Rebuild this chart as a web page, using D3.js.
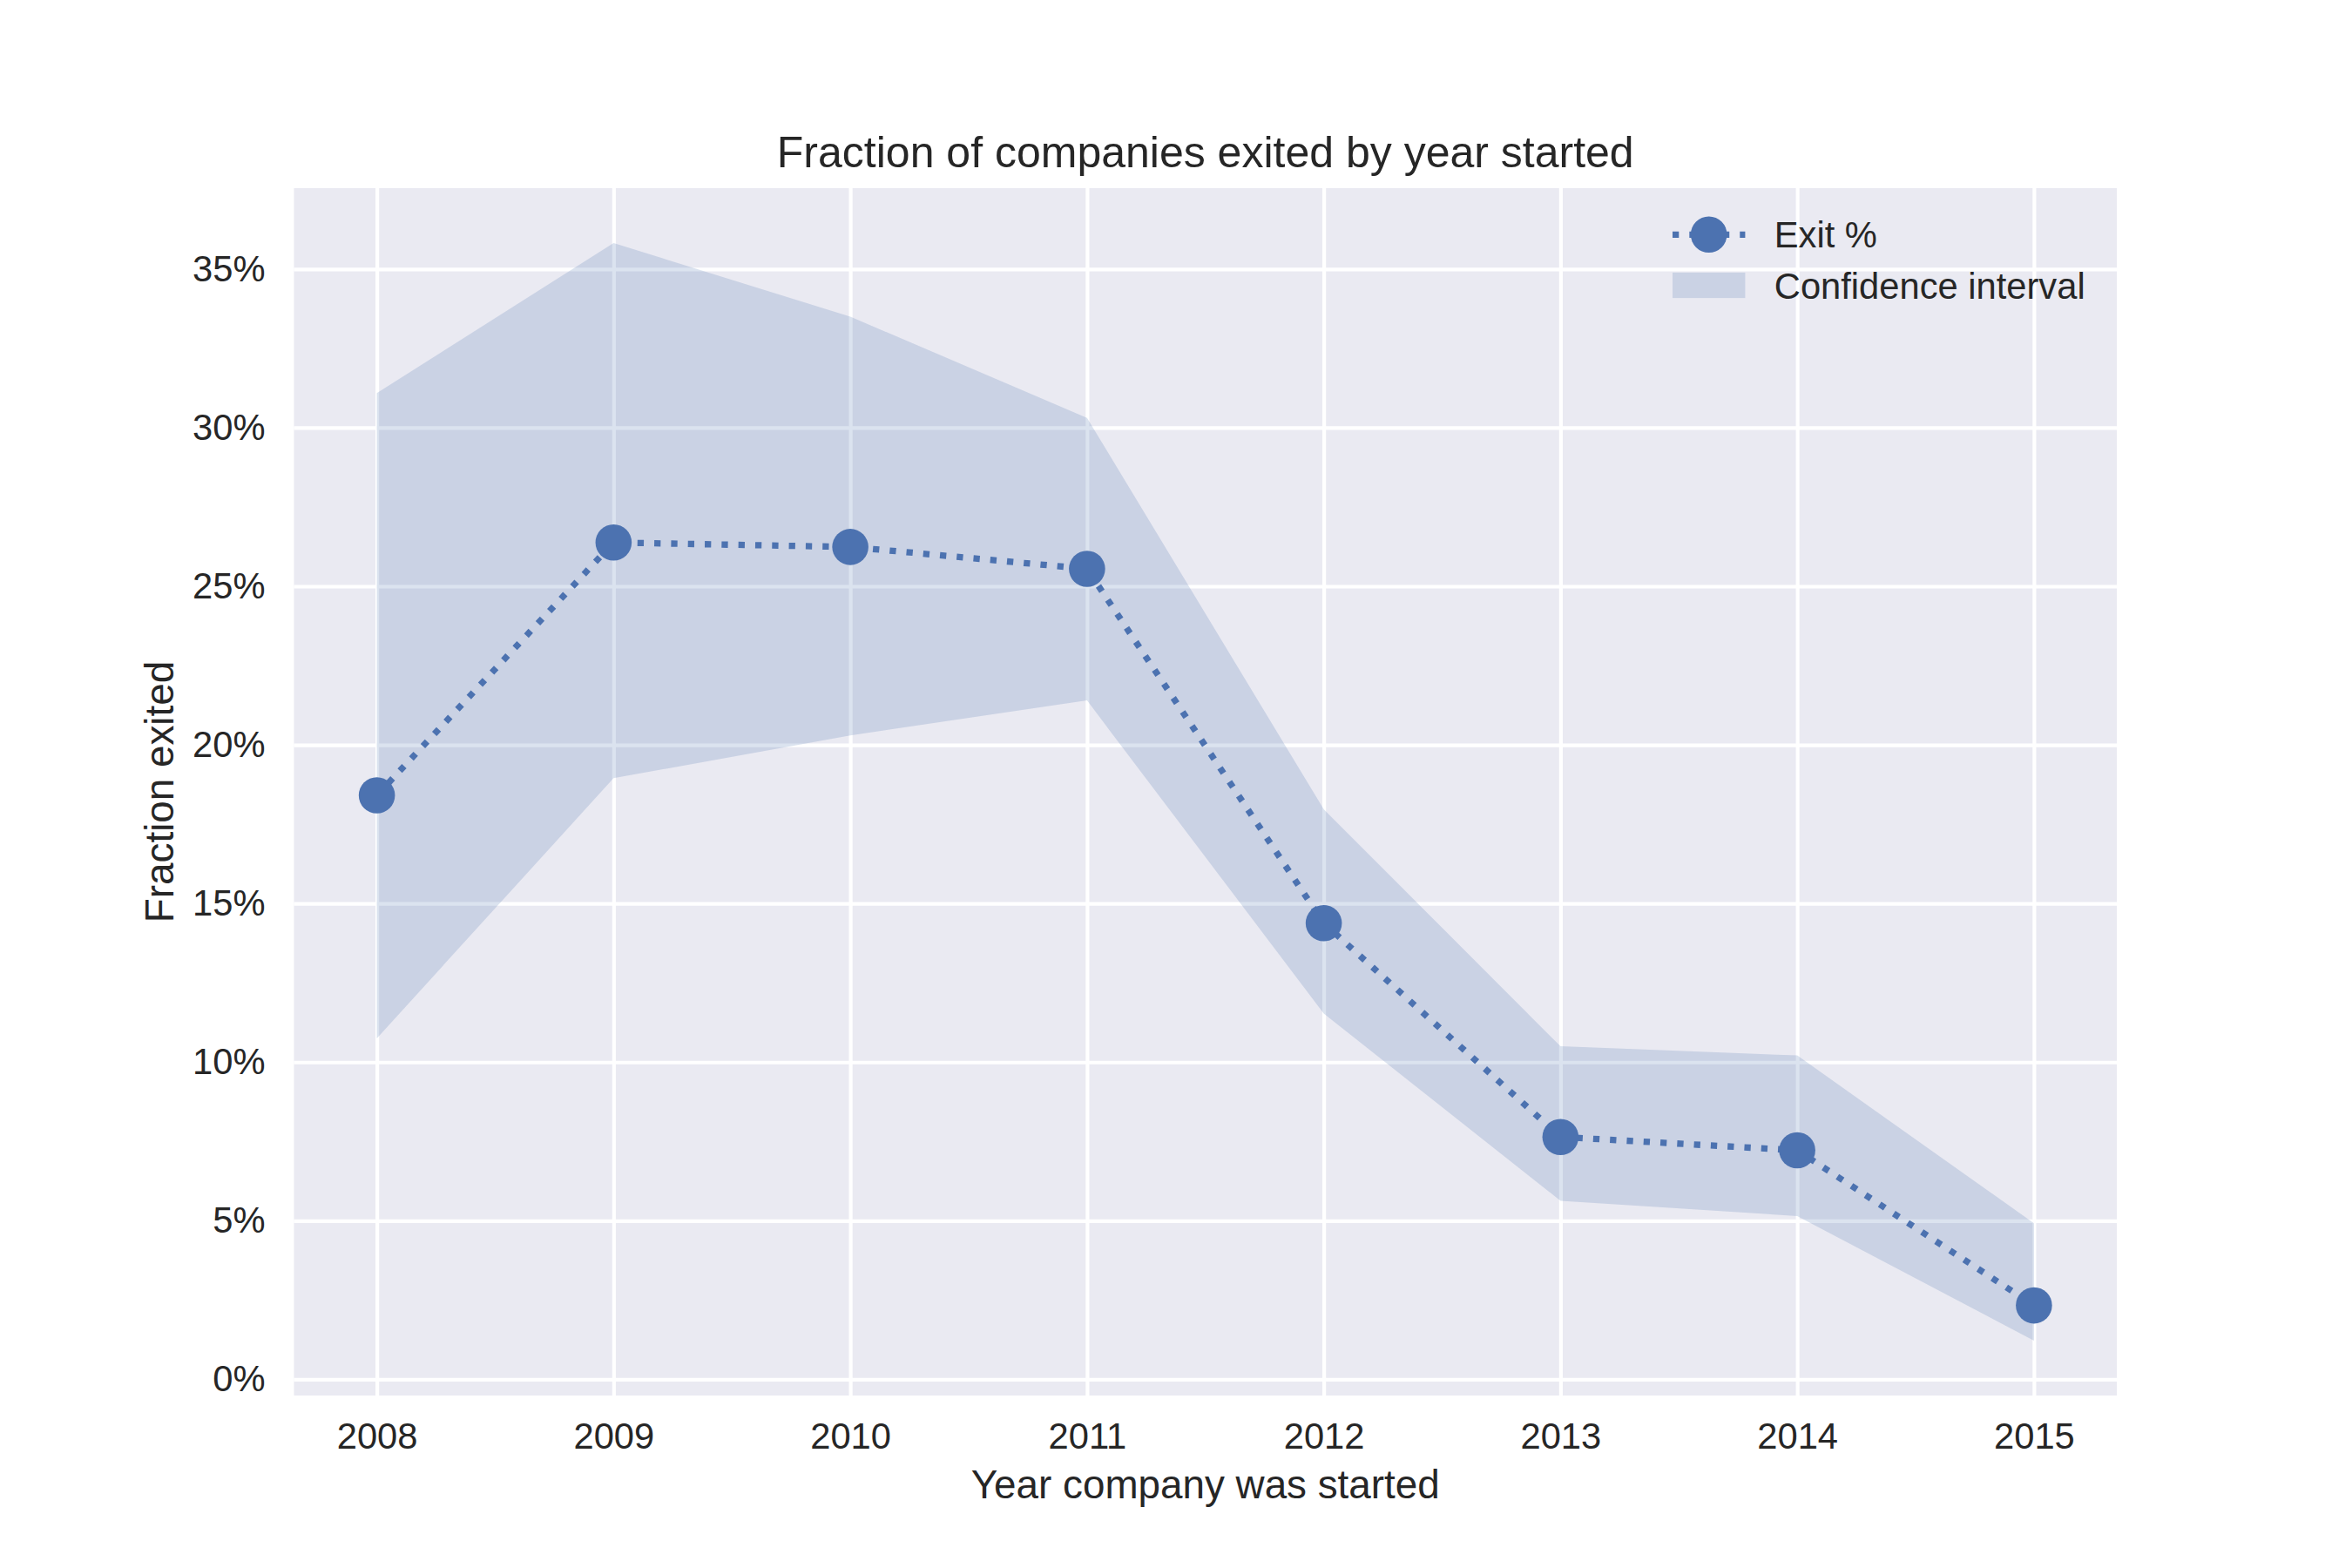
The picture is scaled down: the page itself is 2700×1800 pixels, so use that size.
<!DOCTYPE html>
<html>
<head>
<meta charset="utf-8">
<script src="https://cdn.jsdelivr.net/npm/d3@7"></script>
<style>
  html, body { margin: 0; padding: 0; background: #ffffff; }
  svg { display: block; }
  text { font-family: "Liberation Sans", Arial, "DejaVu Sans", sans-serif; fill: #262626; }
</style>
</head>
<body>
<svg id="chart" width="2700" height="1800"></svg>
<script>
// ---- data ----
const years = [2008, 2009, 2010, 2011, 2012, 2013, 2014, 2015];
const exitPct = [0.1841, 0.2638, 0.2624, 0.2555, 0.1438, 0.0764, 0.0722, 0.0233];
const ciUpper = [0.3109, 0.3582, 0.3350, 0.3031, 0.1797, 0.1050, 0.1021, 0.0492];
const ciLower = [0.1075, 0.1895, 0.2030, 0.2140, 0.1153, 0.0563, 0.0515, 0.0122];
const yTicks = [0, 0.05, 0.10, 0.15, 0.20, 0.25, 0.30, 0.35];
const seriesNames = ["Exit %", "Confidence interval"];
const titleText = "Fraction of companies exited by year started";
const xLabelText = "Year company was started";
const yLabelText = "Fraction exited";

// ---- layout ----
const W = 2700, H = 1800;
const plot = { left: 337.5, right: 2430, top: 216, bottom: 1602 };
const blue = "#4C72B0";
const bg = "#EAEAF2";

const svg = d3.select("#chart");

// scales with matplotlib-like 5% margins
const xMin = d3.min(years), xMax = d3.max(years);
const xPad = (xMax - xMin) * 0.05;
const x = d3.scaleLinear().domain([xMin - xPad, xMax + xPad]).range([plot.left, plot.right]);
const yLo = d3.min(ciLower.concat(exitPct)), yHi = d3.max(ciUpper.concat(exitPct));
const yPad = (yHi - yLo) * 0.05;
const y = d3.scaleLinear().domain([yLo - yPad, yHi + yPad]).range([plot.bottom, plot.top]);

const pw = plot.right - plot.left, ph = plot.bottom - plot.top;

// background
svg.append("rect").attr("x", plot.left).attr("y", plot.top)
  .attr("width", pw).attr("height", ph).attr("fill", bg);

// grid
const gridX = svg.append("g").attr("transform", `translate(0,${plot.bottom})`)
  .call(d3.axisBottom(x).tickValues(years).tickSize(-ph).tickFormat(""));
const gridY = svg.append("g").attr("transform", `translate(${plot.left},0)`)
  .call(d3.axisLeft(y).tickValues(yTicks).tickSize(-pw).tickFormat(""));
[gridX, gridY].forEach(g => {
  g.select(".domain").remove();
  g.selectAll("line").attr("stroke", "#ffffff").attr("stroke-width", 4.17);
});

// confidence band
const data = years.map((yr, i) => ({ yr, v: exitPct[i], lo: ciLower[i], hi: ciUpper[i] }));
svg.append("path").datum(data)
  .attr("d", d3.area().x(d => x(d.yr)).y0(d => y(d.lo)).y1(d => y(d.hi)))
  .attr("fill", blue).attr("fill-opacity", 0.2).attr("stroke", "none");

// line
const lw = 7.29;
const dash = `${lw} ${lw * 1.65}`;
svg.append("path").datum(data)
  .attr("d", d3.line().x(d => x(d.yr)).y(d => y(d.v)))
  .attr("fill", "none").attr("stroke", blue).attr("stroke-width", lw)
  .attr("stroke-dasharray", dash).attr("stroke-linecap", "butt");

// markers
svg.append("g").selectAll("circle").data(data).join("circle")
  .attr("cx", d => x(d.yr)).attr("cy", d => y(d.v)).attr("r", 20.8)
  .attr("fill", blue);

// axes labels (ticks)
const xAxis = svg.append("g").attr("transform", `translate(0,${plot.bottom})`)
  .call(d3.axisBottom(x).tickValues(years).tickSize(0).tickPadding(31).tickFormat(d3.format("d")));
const yAxis = svg.append("g").attr("transform", `translate(${plot.left},0)`)
  .call(d3.axisLeft(y).tickValues(yTicks).tickSize(0).tickPadding(33).tickFormat(d3.format(".0%")));
[xAxis, yAxis].forEach(g => {
  g.select(".domain").remove();
  g.selectAll("text").attr("font-size", 41.7).attr("fill", "#262626")
    .attr("font-family", "'Liberation Sans', Arial, sans-serif");
});

// title
svg.append("text").attr("x", (plot.left + plot.right) / 2).attr("y", 191.7)
  .attr("text-anchor", "middle").attr("font-size", 50).text(titleText);

// x label
svg.append("text").attr("x", (plot.left + plot.right) / 2).attr("y", 1720)
  .attr("text-anchor", "middle").attr("font-size", 45.8).text(xLabelText);

// y label
svg.append("text")
  .attr("transform", `translate(199,${(plot.top + plot.bottom) / 2}) rotate(-90)`)
  .attr("text-anchor", "middle").attr("font-size", 45.8).text(yLabelText);

// legend
const lg = svg.append("g");
const hx0 = 1920, hx1 = 2003.4, tx = 2036.8;
const row1 = 269.3, row2 = 327.5;
lg.append("line").attr("x1", hx0).attr("x2", hx1).attr("y1", row1).attr("y2", row1)
  .attr("stroke", blue).attr("stroke-width", lw).attr("stroke-dasharray", dash);
lg.append("circle").attr("cx", (hx0 + hx1) / 2).attr("cy", row1).attr("r", 20.8).attr("fill", blue);
lg.append("rect").attr("x", hx0).attr("y", row2 - 14.6).attr("width", hx1 - hx0).attr("height", 29.2)
  .attr("fill", blue).attr("fill-opacity", 0.2);
lg.selectAll("text.lab").data(seriesNames).join("text").attr("class", "lab")
  .attr("x", tx).attr("y", (d, i) => i === 0 ? row1 : row2)
  .attr("dy", "0.36em").attr("font-size", 41.7).text(d => d);
</script>
</body>
</html>
